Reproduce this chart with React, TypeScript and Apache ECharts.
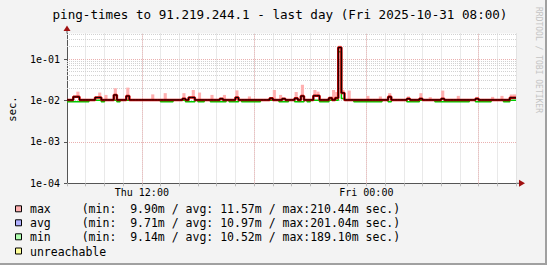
import React, { useEffect, useRef } from 'react';
import * as echarts from 'echarts';

const startTime = Date.UTC(2025, 9, 30, 8, 0, 0);
const endTime = Date.UTC(2025, 9, 31, 8, 0, 0);
const stepMs = 10 * 60 * 1000;
const hourMs = 3600 * 1000;

// 10-minute bins, Thu 08:00 -> Fri 08:00
const maxValues = [
  0.0107, 0.0107, 0.0125, 0.0163, 0.0107, 0.0107, 0.0107, 0.0107, 0.0107, 0.0120, 0.0155, 0.0107,
  0.0136, 0.0107, 0.0107, 0.0197, 0.0107, 0.0107, 0.0107, 0.0204, 0.0107, 0.0107, 0.0107, 0.0107,
  0.0107, 0.0107, 0.0107, 0.0140, 0.0107, 0.0107, 0.0107, 0.0150, 0.0107, 0.0107, 0.0107, 0.0107,
  0.0107, 0.0150, 0.0107, 0.0120, 0.0179, 0.0107, 0.0155, 0.0107, 0.0107, 0.0107, 0.0136, 0.0107,
  0.0107, 0.0112, 0.0136, 0.0107, 0.0107, 0.0107, 0.0175, 0.0107, 0.0107, 0.0107, 0.0125, 0.0107,
  0.0107, 0.0107, 0.0107, 0.0107, 0.0107, 0.0115, 0.0179, 0.0107, 0.0136, 0.0112, 0.0107, 0.0107,
  0.0107, 0.0160, 0.0107, 0.0239, 0.0107, 0.0107, 0.0107, 0.0179, 0.0163, 0.0107, 0.0107, 0.0107,
  0.0117, 0.0179, 0.0160, 0.2100, 0.0180, 0.0107, 0.0173, 0.0107, 0.0107, 0.0107, 0.0107, 0.0107,
  0.0129, 0.0107, 0.0107, 0.0107, 0.0125, 0.0107, 0.0107, 0.0150, 0.0107, 0.0107, 0.0107, 0.0107,
  0.0107, 0.0125, 0.0107, 0.0107, 0.0107, 0.0150, 0.0107, 0.0107, 0.0120, 0.0107, 0.0107, 0.0107,
  0.0173, 0.0107, 0.0107, 0.0107, 0.0107, 0.0129, 0.0107, 0.0107, 0.0107, 0.0107, 0.0107, 0.0122,
  0.0107, 0.0107, 0.0107, 0.0107, 0.0122, 0.0107, 0.0107, 0.0129, 0.0107, 0.0107, 0.0140, 0.0140,
];

const avgValues = [
  0.0103, 0.0103, 0.0122, 0.0122, 0.0103, 0.0103, 0.0103, 0.0103, 0.0103, 0.0118, 0.0118, 0.0103,
  0.0103, 0.0103, 0.0103, 0.0136, 0.0103, 0.0103, 0.0103, 0.0128, 0.0103, 0.0103, 0.0103, 0.0103,
  0.0103, 0.0103, 0.0103, 0.0103, 0.0103, 0.0103, 0.0103, 0.0103, 0.0103, 0.0103, 0.0103, 0.0103,
  0.0103, 0.0110, 0.0103, 0.0118, 0.0118, 0.0103, 0.0103, 0.0103, 0.0103, 0.0103, 0.0103, 0.0103,
  0.0103, 0.0110, 0.0103, 0.0103, 0.0103, 0.0103, 0.0118, 0.0103, 0.0103, 0.0103, 0.0103, 0.0103,
  0.0103, 0.0103, 0.0103, 0.0103, 0.0103, 0.0113, 0.0103, 0.0103, 0.0103, 0.0110, 0.0103, 0.0103,
  0.0103, 0.0113, 0.0103, 0.0128, 0.0103, 0.0103, 0.0103, 0.0130, 0.0130, 0.0103, 0.0103, 0.0103,
  0.0115, 0.0103, 0.0115, 0.1900, 0.0152, 0.0103, 0.0103, 0.0103, 0.0103, 0.0103, 0.0103, 0.0103,
  0.0103, 0.0103, 0.0103, 0.0103, 0.0103, 0.0103, 0.0103, 0.0122, 0.0103, 0.0103, 0.0103, 0.0103,
  0.0103, 0.0110, 0.0103, 0.0103, 0.0103, 0.0110, 0.0103, 0.0103, 0.0103, 0.0103, 0.0103, 0.0103,
  0.0110, 0.0103, 0.0103, 0.0103, 0.0103, 0.0103, 0.0103, 0.0103, 0.0103, 0.0103, 0.0103, 0.0110,
  0.0103, 0.0103, 0.0103, 0.0103, 0.0103, 0.0103, 0.0103, 0.0103, 0.0103, 0.0103, 0.0116, 0.0116,
];

const minValues = [
  0.0093, 0.0093, 0.0093, 0.0093, 0.0093, 0.0093, 0.0093, 0.0101, 0.0101, 0.0101, 0.0101, 0.0093,
  0.0101, 0.0101, 0.0101, 0.0101, 0.0093, 0.0101, 0.0101, 0.0101, 0.0101, 0.0101, 0.0101, 0.0101,
  0.0101, 0.0101, 0.0101, 0.0101, 0.0101, 0.0101, 0.0093, 0.0093, 0.0093, 0.0093, 0.0101, 0.0101,
  0.0101, 0.0101, 0.0093, 0.0093, 0.0093, 0.0101, 0.0093, 0.0093, 0.0101, 0.0101, 0.0093, 0.0093,
  0.0093, 0.0093, 0.0093, 0.0101, 0.0093, 0.0093, 0.0093, 0.0101, 0.0093, 0.0093, 0.0093, 0.0093,
  0.0093, 0.0093, 0.0101, 0.0101, 0.0101, 0.0101, 0.0101, 0.0101, 0.0093, 0.0093, 0.0093, 0.0101,
  0.0101, 0.0093, 0.0093, 0.0093, 0.0101, 0.0093, 0.0101, 0.0101, 0.0101, 0.0093, 0.0093, 0.0093,
  0.0101, 0.0101, 0.0101, 0.1500, 0.0112, 0.0101, 0.0101, 0.0101, 0.0093, 0.0093, 0.0093, 0.0093,
  0.0093, 0.0093, 0.0093, 0.0093, 0.0093, 0.0101, 0.0101, 0.0093, 0.0101, 0.0101, 0.0101, 0.0101,
  0.0101, 0.0093, 0.0093, 0.0093, 0.0093, 0.0101, 0.0101, 0.0101, 0.0101, 0.0101, 0.0093, 0.0093,
  0.0093, 0.0093, 0.0093, 0.0093, 0.0093, 0.0093, 0.0093, 0.0093, 0.0093, 0.0101, 0.0101, 0.0093,
  0.0093, 0.0093, 0.0093, 0.0093, 0.0101, 0.0101, 0.0101, 0.0101, 0.0093, 0.0093, 0.0101, 0.0101,
];

const majorTimes = [
  Date.UTC(2025, 9, 30, 12),
  Date.UTC(2025, 9, 30, 18),
  Date.UTC(2025, 9, 31, 0),
  Date.UTC(2025, 9, 31, 6),
];
const labelTimes = [Date.UTC(2025, 9, 30, 12), Date.UTC(2025, 9, 31, 0)];
const timeLabels = ['Thu 12:00', 'Fri 00:00'];

const decadeValues = [1e-4, 1e-3, 1e-2, 1e-1];
const decadeLabels = ['1e-04', '1e-03', '1e-02', '1e-01'];
const minorGridValues = [
  2e-4, 3e-4, 4e-4, 5e-4, 6e-4, 7e-4, 8e-4, 9e-4,
  2e-3, 3e-3, 4e-3, 5e-3, 6e-3, 7e-3, 8e-3, 9e-3,
  2e-2, 3e-2, 4e-2, 5e-2, 6e-2, 7e-2, 8e-2, 9e-2,
  2e-1, 3e-1, 4e-1,
];

const titleText = 'ping-times to 91.219.244.1 - last day (Fri 2025-10-31 08:00)';
const yUnit = 'sec.';
const watermark = 'RRDTOOL / TOBI OETIKER';

const legendNames = ['max', 'avg', 'min', 'unreachable'];
const legendColors = ['#ffb0b0', '#b0b0ff', '#b0ffb0', '#ffff99'];
const legendStats = [
  '(min: \u00a09.90m / avg: 11.57m / max:210.44m sec.)',
  '(min: \u00a09.71m / avg: 10.97m / max:201.04m sec.)',
  '(min: \u00a09.14m / avg: 10.52m / max:189.10m sec.)',
  '',
];

const MONO = "'DejaVu Sans Mono', monospace";

function stepData(vals: number[]) {
  const pts: number[][] = vals.map((v, i) => [startTime + i * stepMs, v]);
  pts.push([endTime, vals[vals.length - 1]]);
  return pts;
}

export default function App() {
  const ref = useRef<HTMLDivElement>(null);

  useEffect(() => {
    if (!ref.current) return;
    const chart = echarts.init(ref.current, null, { renderer: 'svg' });

    const bandData = maxValues.map((m, i) => [
      startTime + i * stepMs,
      startTime + (i + 1) * stepMs,
      avgValues[i],
      m,
    ]);

    const gridLeft = 67;
    const gridTop = 33.5;
    const gridRight = 31;
    const gridBottom = 81.7;
    const axisY = 265 - gridBottom;
    const plotRight = 547 - gridRight;

    const legendRowsY = [209.3, 223.3, 237.3, 251.5];
    const graphics: any[] = [
      { type: 'rect', shape: { x: 545, y: 0, width: 2, height: 265 }, style: { fill: '#a0a0a0' }, silent: true },
      { type: 'rect', shape: { x: 0, y: 263, width: 547, height: 2 }, style: { fill: '#a0a0a0' }, silent: true },
      {
        type: 'text', x: 280, y: 14,
        style: { text: titleText, fill: '#000', font: `12.6px ${MONO}`, align: 'center', verticalAlign: 'middle', textAlign: 'center', textVerticalAlign: 'middle' },
      },
      {
        type: 'text', x: 538, y: 60, rotation: -Math.PI / 2,
        style: { text: watermark, fill: '#c4c4c4', font: `8px ${MONO}`, align: 'center', verticalAlign: 'middle', textAlign: 'center', textVerticalAlign: 'middle' },
      },
      {
        type: 'text', x: 11.5, y: 109, rotation: Math.PI / 2,
        style: { text: yUnit, fill: '#000', font: `10.5px ${MONO}`, align: 'center', verticalAlign: 'middle', textAlign: 'center', textVerticalAlign: 'middle' },
      },
      { type: 'line', shape: { x1: gridLeft, y1: gridTop, x2: gridLeft, y2: 30 }, style: { stroke: '#555', lineWidth: 1 }, silent: true },
      { type: 'polygon', shape: { points: [[63.5, 31], [70.5, 31], [67, 25.5]] }, style: { fill: '#a01010' }, silent: true },
      { type: 'line', shape: { x1: plotRight, y1: axisY, x2: 520, y2: axisY }, style: { stroke: '#555', lineWidth: 1 }, silent: true },
      { type: 'polygon', shape: { points: [[519, 179.8], [519, 186.8], [525, axisY]] }, style: { fill: '#a01010' }, silent: true },
    ];
    legendNames.forEach((name, i) => {
      const cy = legendRowsY[i];
      graphics.push({
        type: 'rect', shape: { x: 15.5, y: cy - 3.5, width: 6, height: 6 },
        style: { fill: legendColors[i], stroke: '#000', lineWidth: 1 }, silent: true,
      });
      graphics.push({
        type: 'text', x: 30, y: cy,
        style: { text: name, fill: '#000', font: `11.5px ${MONO}`, align: 'left', verticalAlign: 'middle', textAlign: 'left', textVerticalAlign: 'middle' },
      });
      if (legendStats[i]) {
        graphics.push({
          type: 'text', x: 81.7, y: cy,
          style: { text: legendStats[i], fill: '#000', font: `11.5px ${MONO}`, align: 'left', verticalAlign: 'middle', textAlign: 'left', textVerticalAlign: 'middle' },
        });
      }
    });

    const minorLine = { color: '#d2d2d2', type: [1, 1], width: 1 };
    const majorLine = { color: '#eab0b0', type: [1, 1], width: 1 };

    const option: any = {
      animation: false,
      backgroundColor: '#f3f3f3',
      textStyle: { fontFamily: MONO },
      grid: {
        left: gridLeft, top: gridTop, right: gridRight, bottom: gridBottom,
        show: true, backgroundColor: '#ffffff', borderWidth: 0, containLabel: false,
      },
      xAxis: {
        type: 'value', min: startTime, max: endTime, interval: hourMs,
        axisLine: { show: true, onZero: false, lineStyle: { color: '#555', width: 1 } },
        axisTick: { show: true, length: 3, lineStyle: { color: '#bbbbbb' } },
        axisLabel: {
          show: true, margin: 4, fontFamily: MONO, fontSize: 10, color: '#000',
          formatter: (v: number) => {
            const k = labelTimes.indexOf(v);
            return k >= 0 ? timeLabels[k] : '';
          },
        },
        splitLine: { show: true, lineStyle: minorLine },
      },
      yAxis: {
        type: 'log', logBase: 10, min: 1e-4, max: 0.413,
        axisLine: { show: true, onZero: false, lineStyle: { color: '#555', width: 1 } },
        axisTick: { show: true, length: 3, lineStyle: { color: '#555' } },
        axisLabel: {
          show: true, margin: 7, fontFamily: MONO, fontSize: 10, color: '#000', showMaxLabel: false,
          formatter: (v: number) => {
            for (let i = 0; i < decadeValues.length; i++) {
              if (Math.abs(Math.log10(v) - Math.log10(decadeValues[i])) < 1e-6) return decadeLabels[i];
            }
            return '';
          },
        },
        splitLine: { show: true, showMaxLine: false, lineStyle: majorLine },
      },
      graphic: graphics,
      series: [
        {
          name: 'grid', type: 'line', data: stepData(avgValues), showSymbol: false, silent: true,
          lineStyle: { width: 0, opacity: 0 }, z: 1,
          markLine: {
            silent: true, symbol: ['none', 'none'], label: { show: false }, z: 1, animation: false,
            data: [
              ...minorGridValues.map((v) => ({ yAxis: v, lineStyle: minorLine })),
              ...majorTimes.map((t) => ({ xAxis: t, lineStyle: majorLine })),
            ],
          },
        },
        {
          name: 'max', type: 'custom', data: bandData, silent: true, z: 2,
          encode: { x: [0, 1], y: [2, 3] },
          renderItem: (params: any, api: any) => {
            const p0 = api.coord([api.value(0), api.value(3)]);
            const p1 = api.coord([api.value(1), api.value(2)]);
            return {
              type: 'rect',
              shape: { x: p0[0], y: p0[1], width: p1[0] - p0[0], height: p1[1] - p0[1] },
              style: { fill: '#ffb0b0' },
            };
          },
        },
        {
          name: 'min', type: 'line', step: 'end', data: stepData(minValues),
          showSymbol: false, silent: true, lineStyle: { width: 1.5, color: '#00cc00' }, z: 3,
        },
        {
          name: 'avg', type: 'line', step: 'end', data: stepData(avgValues),
          showSymbol: false, silent: true, lineStyle: { width: 2.5, color: '#cc0000' }, z: 4,
        },
        {
          name: 'avgCore', type: 'line', step: 'end', data: stepData(avgValues),
          showSymbol: false, silent: true, lineStyle: { width: 1, color: '#000000' }, z: 5,
        },
      ],
    };

    chart.setOption(option);
    return () => chart.dispose();
  }, []);

  return (
    <div
      ref={ref}
      style={{ position: 'absolute', left: 0, top: 0, width: 547, height: 265 }}
    />
  );
}
